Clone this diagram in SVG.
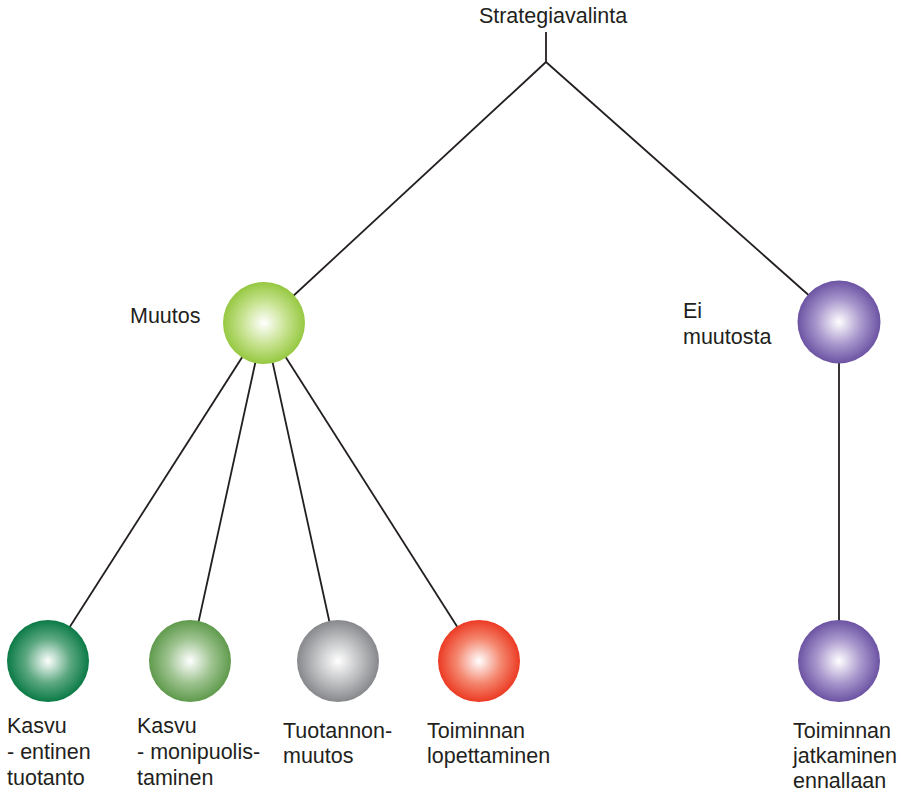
<svg xmlns="http://www.w3.org/2000/svg" width="901" height="793" viewBox="0 0 901 793">
<style>
.t{font-family:"Liberation Sans",Arial,sans-serif;font-size:21.5px;fill:#231f20}
.c{stroke:#231f20;stroke-width:1.8;fill:none}
</style>
<defs>
<radialGradient id="gLight" cx="0.5" cy="0.5" r="0.5"><stop offset="0" stop-color="#ffffff"/><stop offset="0.55" stop-color="#c6e28e"/><stop offset="1" stop-color="#96c841"/></radialGradient>
<radialGradient id="gPurple" cx="0.5" cy="0.5" r="0.5"><stop offset="0" stop-color="#ffffff"/><stop offset="0.55" stop-color="#a796cc"/><stop offset="1" stop-color="#6c53a3"/></radialGradient>
<radialGradient id="gDark" cx="0.5" cy="0.5" r="0.5"><stop offset="0" stop-color="#ffffff"/><stop offset="0.55" stop-color="#5ca881"/><stop offset="1" stop-color="#0b7a46"/></radialGradient>
<radialGradient id="gMid" cx="0.5" cy="0.5" r="0.5"><stop offset="0" stop-color="#ffffff"/><stop offset="0.55" stop-color="#9cc28e"/><stop offset="1" stop-color="#5f9a4c"/></radialGradient>
<radialGradient id="gGray" cx="0.5" cy="0.5" r="0.5"><stop offset="0" stop-color="#ffffff"/><stop offset="0.55" stop-color="#bebfc1"/><stop offset="1" stop-color="#87888b"/></radialGradient>
<radialGradient id="gRed" cx="0.5" cy="0.5" r="0.5"><stop offset="0" stop-color="#ffffff"/><stop offset="0.55" stop-color="#f4866e"/><stop offset="1" stop-color="#ec3a23"/></radialGradient>
</defs>
<g id="connectors">
<polyline class="c" points="546,32 546,62"/>
<line class="c" x1="546" y1="62" x2="264" y2="323"/>
<line class="c" x1="546" y1="62" x2="839" y2="322"/>
<line class="c" x1="839" y1="322" x2="839" y2="661"/>
<line class="c" x1="264" y1="323" x2="48" y2="661"/>
<line class="c" x1="264" y1="323" x2="190" y2="661"/>
<line class="c" x1="264" y1="323" x2="338" y2="661"/>
<line class="c" x1="264" y1="323" x2="479" y2="661"/>
</g>
<g id="root"><text class="t" x="553" y="23" text-anchor="middle">Strategiavalinta</text></g>
<g id="muutos"><circle cx="264" cy="323" r="41" fill="url(#gLight)"/><text class="t" x="130" y="323">Muutos</text></g>
<g id="ei-muutosta"><circle cx="839" cy="322" r="41.5" fill="url(#gPurple)"/><text class="t" x="683" y="318">Ei</text><text class="t" x="683" y="344">muutosta</text></g>
<g id="kasvu-entinen"><circle cx="48" cy="661" r="41" fill="url(#gDark)"/><text class="t" x="7" y="733">Kasvu</text><text class="t" x="7" y="759">- entinen</text><text class="t" x="7" y="785">tuotanto</text></g>
<g id="kasvu-moni"><circle cx="190" cy="661" r="41" fill="url(#gMid)"/><text class="t" x="137" y="733">Kasvu</text><text class="t" x="137" y="759">- monipuolis-</text><text class="t" x="137" y="785">taminen</text></g>
<g id="tuotannon"><circle cx="338" cy="661" r="41" fill="url(#gGray)"/><text class="t" x="283" y="738">Tuotannon-</text><text class="t" x="283" y="763">muutos</text></g>
<g id="lopettaminen"><circle cx="479" cy="661" r="41" fill="url(#gRed)"/><text class="t" x="427" y="738">Toiminnan</text><text class="t" x="427" y="763">lopettaminen</text></g>
<g id="jatkaminen"><circle cx="839" cy="661" r="41" fill="url(#gPurple)"/><text class="t" x="793" y="738">Toiminnan</text><text class="t" x="793" y="763">jatkaminen</text><text class="t" x="793" y="788">ennallaan</text></g>
</svg>
